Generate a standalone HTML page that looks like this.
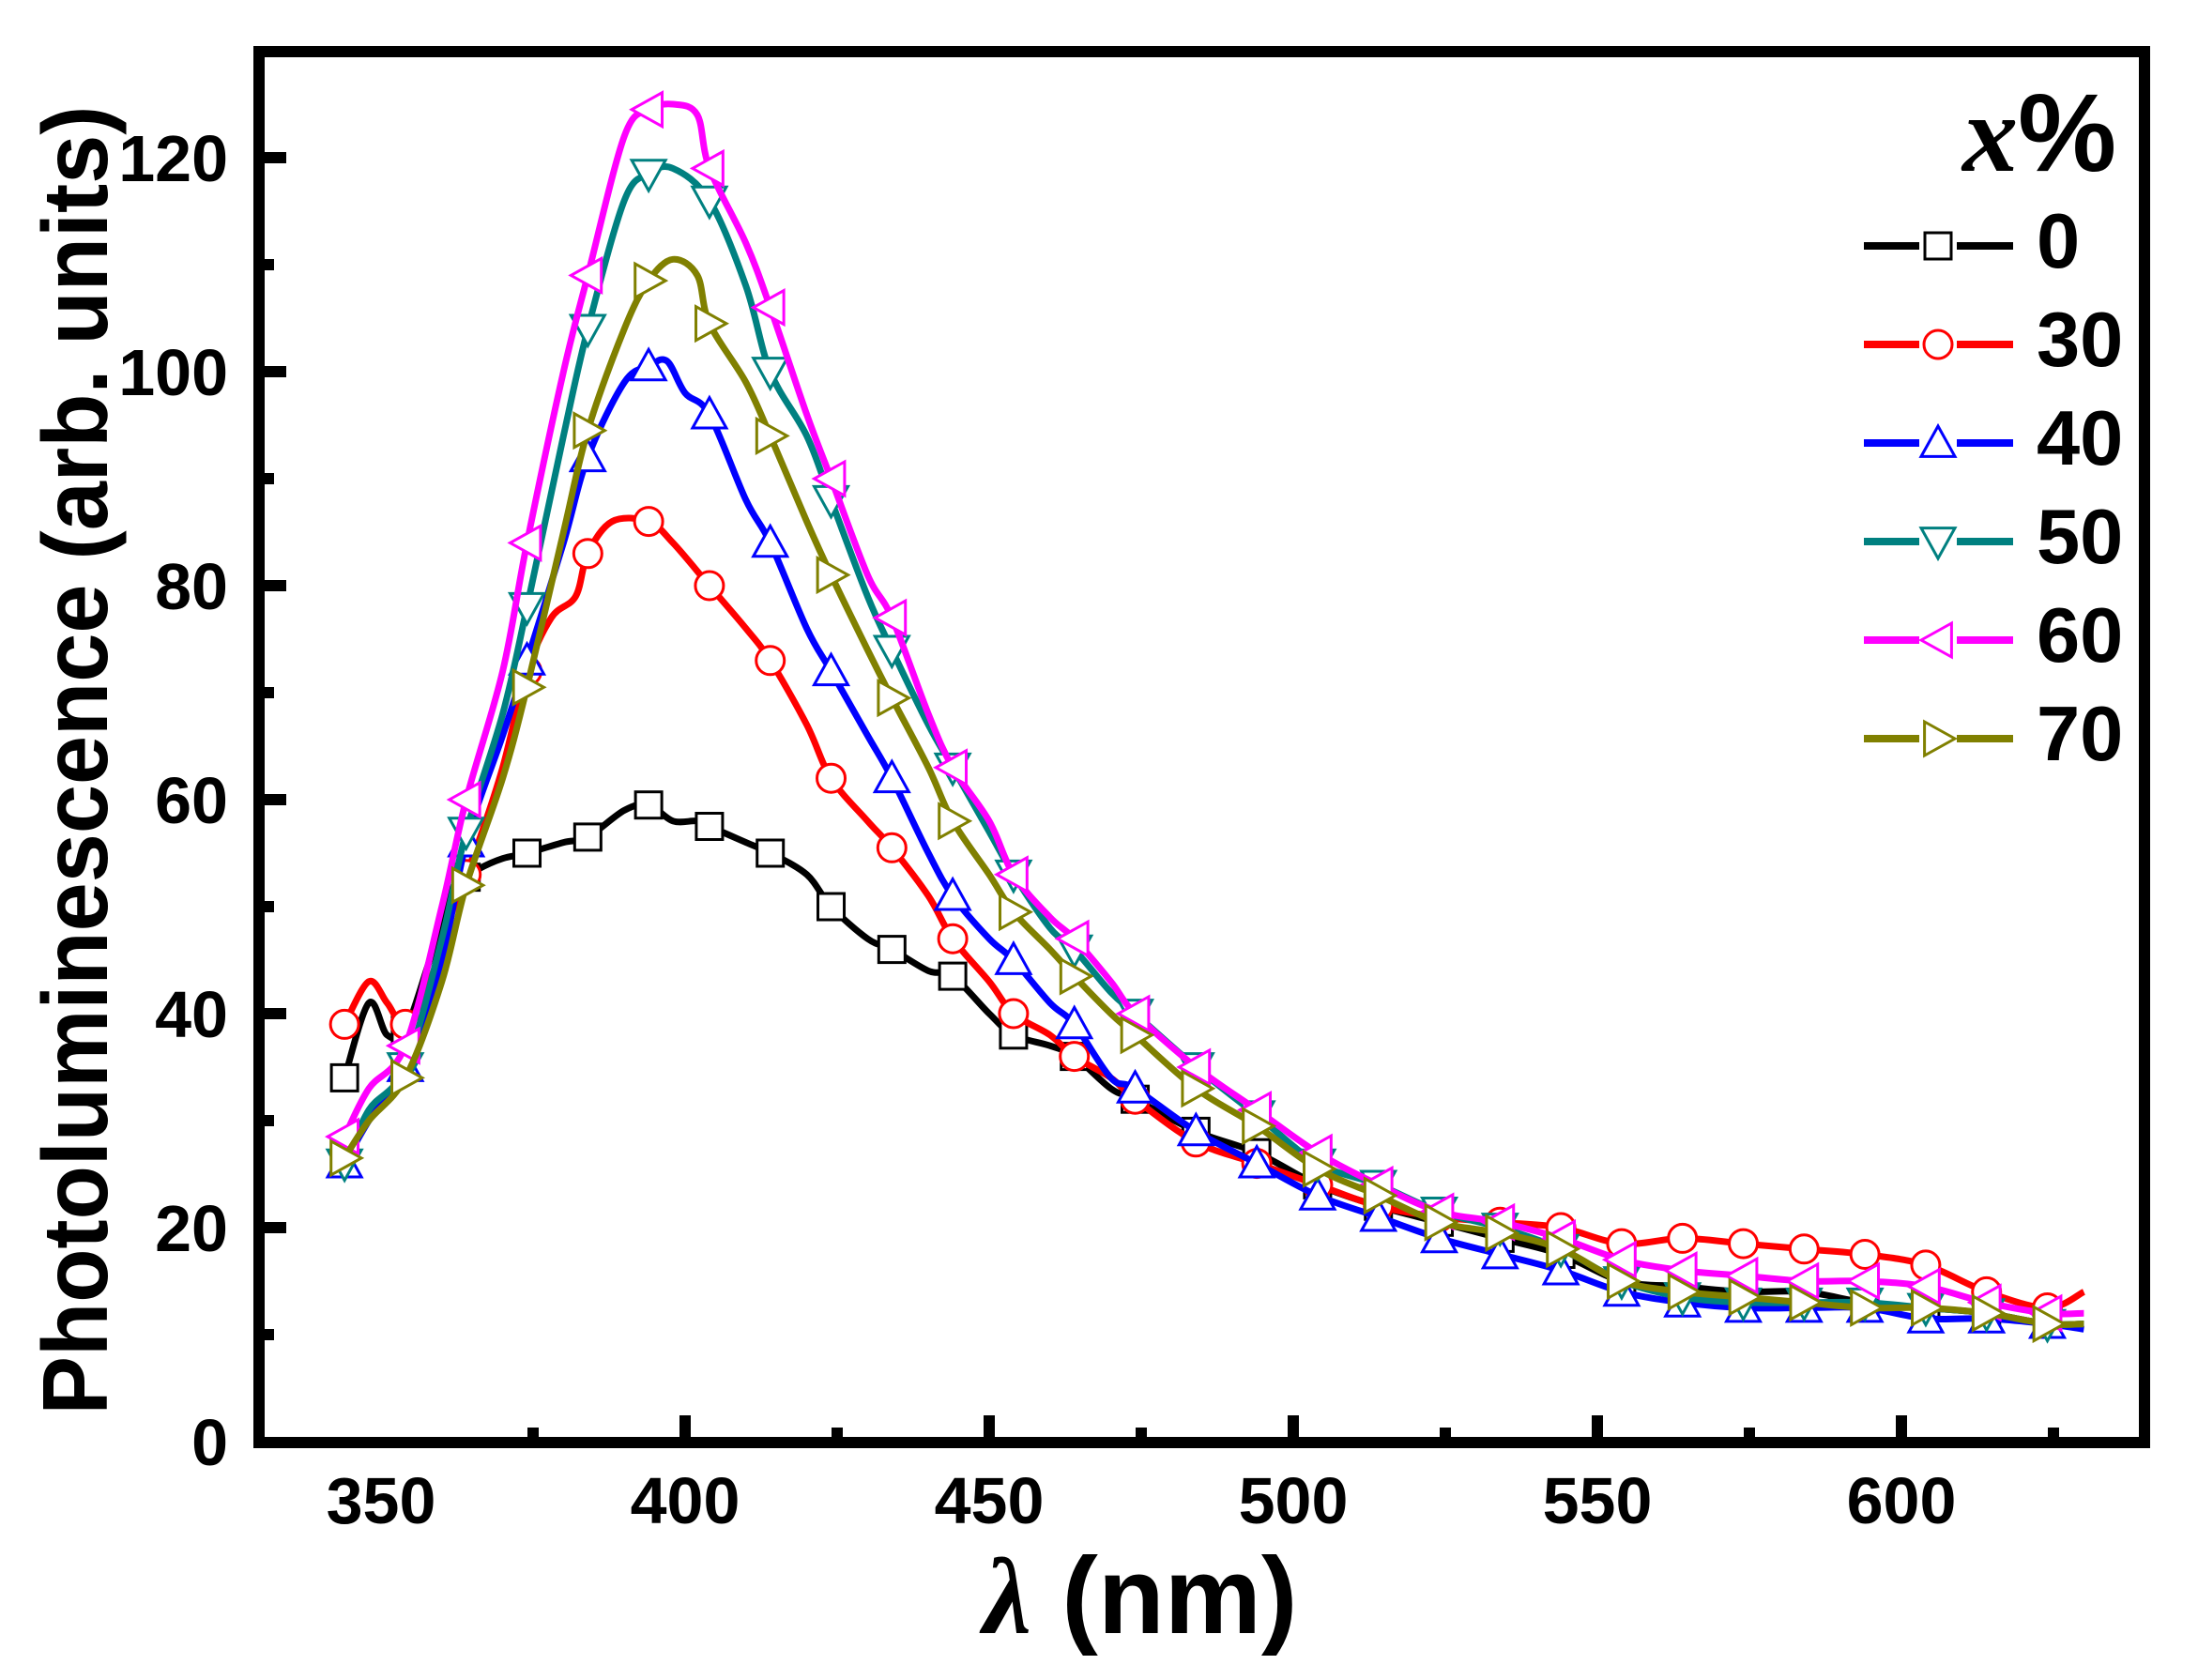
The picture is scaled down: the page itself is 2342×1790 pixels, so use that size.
<!DOCTYPE html>
<html><head><meta charset="utf-8">
<style>
html,body{margin:0;padding:0;background:#fff;}
svg{display:block;}
text{font-family:"Liberation Sans",Arial,sans-serif;font-weight:bold;fill:#000;}
</style></head>
<body>
<svg id="s" width="2342" height="1790" viewBox="0 0 2342 1790" xmlns="http://www.w3.org/2000/svg">
<rect width="2342" height="1790" fill="#fff"/>
<g id="series"></g>
<!-- frame -->
<rect x="276" y="55" width="2009" height="1482" fill="none" stroke="#000" stroke-width="12"/>
<g id="ticks" stroke="#000" stroke-width="12"></g>
<!-- y labels -->
<g font-size="70" text-anchor="end">
<text x="243" y="1561">0</text>
<text x="243" y="1333">20</text>
<text x="243" y="1105">40</text>
<text x="243" y="877">60</text>
<text x="243" y="649">80</text>
<text x="243" y="421">100</text>
<text x="243" y="193">120</text>
</g>
<g font-size="70" text-anchor="middle">
<text x="406" y="1623">350</text>
<text x="730" y="1623">400</text>
<text x="1054" y="1623">450</text>
<text x="1378" y="1623">500</text>
<text x="1702" y="1623">550</text>
<text x="2026" y="1623">600</text>
</g>
<text x="1215" y="1740" font-size="116" text-anchor="middle"><tspan font-family="Liberation Serif,serif" font-style="italic">λ</tspan> (nm)</text>
<text transform="translate(114,810) rotate(-90)" font-size="98" text-anchor="middle" textLength="1395" lengthAdjust="spacingAndGlyphs">Photoluminescence (arb. units)</text>
<!-- legend -->
<text x="2255" y="182" font-size="118" text-anchor="end"><tspan font-family="Liberation Serif,serif" font-style="italic">x</tspan>%</text>
<g id="legend"></g>
<g font-size="83">
<text x="2170" y="285">0</text>
<text x="2170" y="390">30</text>
<text x="2170" y="495">40</text>
<text x="2170" y="600">50</text>
<text x="2170" y="705">60</text>
<text x="2170" y="810">70</text>
</g>
</svg>
<script>
var NS="http://www.w3.org/2000/svg";
function X(n){return 406+(n-350)*6.48;}
function Y(v){return 1536-v*11.4;}
function el(t,a,p){var e=document.createElementNS(NS,t);for(var k in a)e.setAttribute(k,a[k]);p.appendChild(e);return e;}
var tk=document.getElementById('ticks');
for(var v=10;v<=130;v+=10){var y=Y(v);if(y<60)break;var L=(v%20==0)?23:10;el('line',{x1:282,y1:y,x2:282+L,y2:y},tk);}
for(var n=375;n<=625;n+=25){var x=X(n);var L=(n%50==0)?23:10;el('line',{x1:x,y1:1531,x2:x,y2:1531-L},tk);}
var D={
k:[[344,34],[348,41],[351,38],[354,38.5],[358,45],[362,52],[366,53.5],[370,54.5],[374,55],[380,56],[384,56.5],[390,59],[394,59.5],[398,58],[402,58],[404,57.5],[410,56],[414,55],[420,53],[424,50],[430,47],[434,46],[440,44],[444,43.5],[450,40],[454,38],[460,37],[464,36],[470,33],[474,32],[484,29],[494,27],[504,24],[514,22],[524,20.5],[534,19],[544,17.5],[554,15],[564,14.5],[574,14],[584,14],[594,13],[604,12.5],[614,12],[624,11],[630,11]],
r:[[344,39],[348,43],[351,41],[354,39],[358,43],[362,50],[366,56],[370,63],[374,72],[378,77],[382,79],[384,83],[388,86],[394,86],[398,84],[404,80],[410,76],[414,73],[420,67],[424,62],[430,58],[434,55.5],[440,51],[444,47],[450,43],[454,40],[460,38],[464,36],[470,34],[474,32],[484,28],[494,26],[504,24],[514,22],[524,21],[534,20.5],[544,20],[554,18.5],[564,19],[574,18.5],[584,18],[594,17.5],[604,16.5],[614,14],[624,12.5],[630,14]],
b:[[344,26],[348,30],[354,35],[360,45],[364,56],[370,66],[374,73],[380,84],[384,92],[390,99],[394,100.5],[397,101],[400,98],[404,96],[410,88],[414,84],[420,76],[424,72],[430,66],[434,62],[440,55],[444,51],[450,47],[454,45],[460,41],[464,39],[470,34],[474,33],[484,29],[494,26],[504,23],[514,21],[524,19],[534,17.5],[544,16],[554,14],[564,13],[574,12.5],[584,12.5],[594,12.5],[604,11.5],[614,11.5],[624,11],[630,10.5]],
t:[[344,26],[348,31],[354,35],[360,47],[364,57],[370,68],[374,78],[380,94],[384,104],[390,116],[394,118.5],[398,119],[404,116],[410,108],[414,100],[420,94],[424,88],[430,79],[434,74],[440,67],[444,63],[450,57],[454,53],[460,48],[464,46],[470,42],[474,40],[484,35],[494,30.5],[504,26],[514,24],[524,21.5],[534,20],[544,18],[554,15],[564,13.5],[574,13],[584,13],[594,13],[604,12.5],[614,12],[624,11],[630,11]],
m:[[344,28.5],[348,33],[354,37],[360,50],[364,60],[370,72],[374,84],[380,100],[384,109],[390,122],[394,124.5],[398,125],[402,124],[404,119],[410,112],[414,106],[420,96],[424,90],[430,81],[434,77],[440,68],[444,63],[450,58],[454,53],[460,49],[464,47],[470,43],[474,40],[484,35],[494,31],[504,27],[514,24],[524,21.5],[534,20.5],[544,19],[554,17],[564,16],[574,15.5],[584,15],[594,15],[604,14.5],[614,13],[624,12],[630,12]],
o:[[344,26.5],[348,30],[354,34],[360,43],[364,52],[370,62],[374,70.5],[380,85],[384,94.5],[390,104],[394,108.5],[398,110.5],[402,109],[404,104.5],[410,99],[414,94],[420,86],[424,81],[430,74],[434,69.5],[440,63],[444,58],[450,53],[454,49.5],[460,46],[464,43.5],[470,40],[474,38],[484,33],[494,29.5],[504,25.5],[514,23],[524,20.5],[534,19.5],[544,18],[554,15],[564,14],[574,13.5],[584,13],[594,12.5],[604,12.5],[614,12],[624,11],[630,11]]};
var S=[['k','#000000','sq'],['r','#ff0000','ci'],['b','#0000ff','up'],['t','#008080','dn'],['m','#ff00ff','lf'],['o','#808000','rt']];
function interp(d,n){for(var i=0;i<d.length-1;i++){if(n>=d[i][0]&&n<=d[i+1][0]){var f=(n-d[i][0])/(d[i+1][0]-d[i][0]);return d[i][1]+f*(d[i+1][1]-d[i][1]);}}return d[d.length-1][1];}
function path(d){var p=d.map(function(a){return [X(a[0]),Y(a[1])];});var s='M'+p[0][0]+','+p[0][1];
for(var i=0;i<p.length-1;i++){var p0=p[Math.max(0,i-1)],p1=p[i],p2=p[i+1],p3=p[Math.min(p.length-1,i+2)];
s+=' C'+(p1[0]+(p2[0]-p0[0])/6)+','+(p1[1]+(p2[1]-p0[1])/6)+' '+(p2[0]-(p3[0]-p1[0])/6)+','+(p2[1]-(p3[1]-p1[1])/6)+' '+p2[0]+','+p2[1];}return s;}
function marker(type,x,y,c,g){var a={fill:'#fff',stroke:c,'stroke-width':3};var r=18;
if(type=='sq'){a.x=x-14;a.y=y-14;a.width=28;a.height=28;el('rect',a,g);}
else if(type=='ci'){a.cx=x;a.cy=y;a.r=15;el('circle',a,g);}
else{var pts;if(type=='up')pts=[[x,y-r],[x+r,y+r*0.8],[x-r,y+r*0.8]];
else if(type=='dn')pts=[[x,y+r],[x+r,y-r*0.8],[x-r,y-r*0.8]];
else if(type=='lf')pts=[[x-r,y],[x+r*0.8,y-r],[x+r*0.8,y+r]];
else pts=[[x+r,y],[x-r*0.8,y-r],[x-r*0.8,y+r]];
a.points=pts.map(function(q){return q.join(',');}).join(' ');el('polygon',a,g);}}
var G=document.getElementById('series');
S.forEach(function(s){var g=el('g',{},G);
el('path',{d:path(D[s[0]]),fill:'none',stroke:s[1],'stroke-width':7,'stroke-linejoin':'round'},g);
for(var n=344;n<=624;n+=10){marker(s[2],X(n),Y(interp(D[s[0]],n)),s[1],g);}});
var LG=document.getElementById('legend');
S.forEach(function(s,i){var y=262+i*105;
el('line',{x1:1986,y1:y,x2:2045,y2:y,stroke:s[1],'stroke-width':8},LG);
el('line',{x1:2085,y1:y,x2:2145,y2:y,stroke:s[1],'stroke-width':8},LG);
marker(s[2],2065,y,s[1],LG);});
</script>
</body></html>
